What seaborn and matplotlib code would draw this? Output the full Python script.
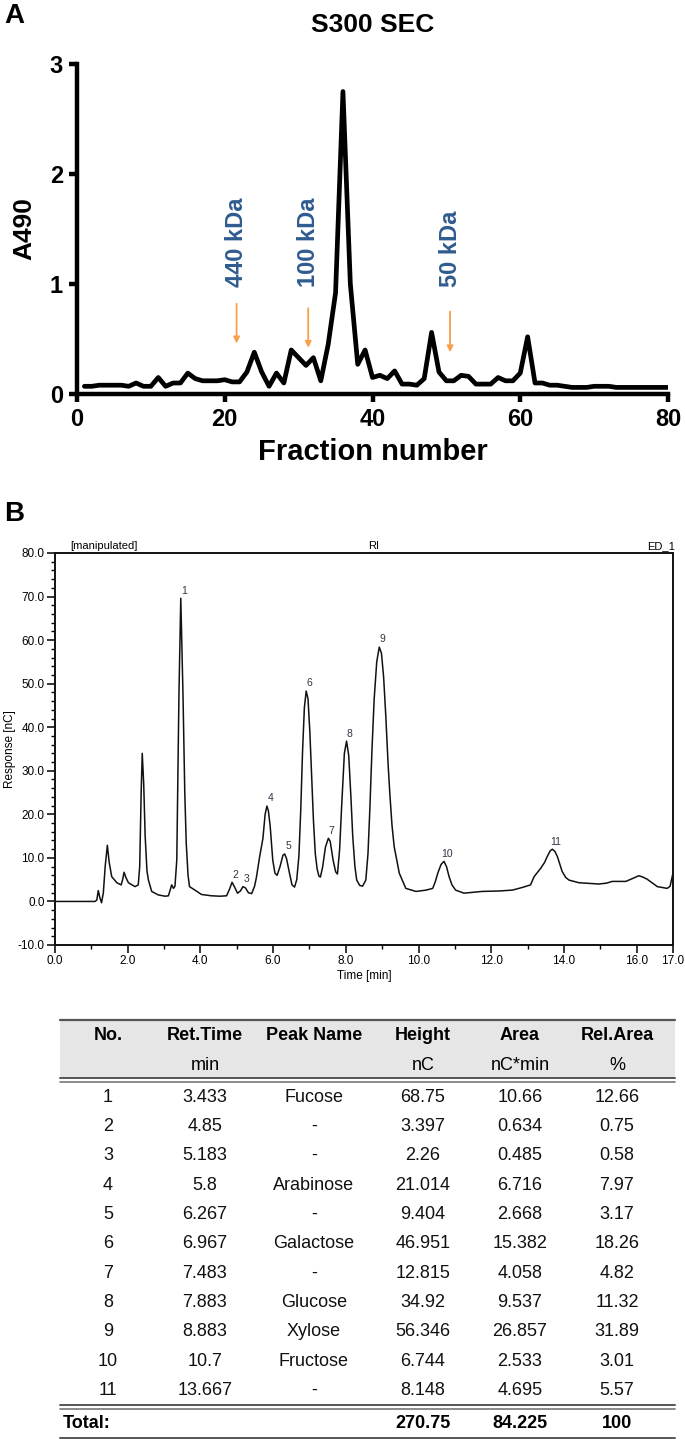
import matplotlib
matplotlib.use("Agg")
import matplotlib.pyplot as plt
from matplotlib.ticker import MultipleLocator, FixedLocator, FormatStrFormatter
import seaborn as sns
import pandas as pd

# ------------------------------------------------------
# Panel A: S300 SEC elution profile (A490 per fraction)
# ------------------------------------------------------
fractions = list(range(1, 81))
a490 = [0.07, 0.07, 0.08, 0.08, 0.08, 0.08, 0.07, 0.10, 0.07, 0.07,
        0.15, 0.07, 0.10, 0.10, 0.19, 0.14, 0.12, 0.12, 0.12, 0.13,
        0.11, 0.11, 0.20, 0.38, 0.20, 0.07, 0.19, 0.10, 0.40, 0.33,
        0.26, 0.33, 0.12, 0.45, 0.92, 2.75, 1.00, 0.27, 0.40, 0.15,
        0.17, 0.14, 0.21, 0.09, 0.09, 0.08, 0.14, 0.56, 0.20, 0.12,
        0.12, 0.17, 0.16, 0.09, 0.09, 0.09, 0.15, 0.12, 0.12, 0.19,
        0.52, 0.10, 0.10, 0.08, 0.08, 0.07, 0.06, 0.06, 0.06, 0.07,
        0.07, 0.07, 0.06, 0.06, 0.06, 0.06, 0.06, 0.06, 0.06, 0.06]

marker_labels = ["440 kDa", "100 kDa", "50 kDa"]
marker_fraction = [21.6, 31.3, 50.5]
arrow_top = [0.82, 0.78, 0.75]
arrow_tip = [0.46, 0.42, 0.38]

# ------------------------------------------------------
# Panel B: RI chromatogram (time [min], response [nC])
# ------------------------------------------------------
rt_min = [0.0, 1.10, 1.15, 1.19, 1.23, 1.28, 1.33, 1.38, 1.44, 1.49,
          1.56, 1.70, 1.82, 1.86, 1.90, 1.95, 2.02, 2.20, 2.29, 2.33,
          2.37, 2.40, 2.44, 2.48, 2.53, 2.57, 2.66, 2.84, 3.03, 3.12,
          3.18, 3.21, 3.26, 3.30, 3.35, 3.41, 3.46, 3.52, 3.57, 3.61,
          3.66, 3.70, 3.85, 4.03, 4.30, 4.54, 4.72, 4.80, 4.87, 4.94,
          5.02, 5.10, 5.17, 5.24, 5.32, 5.41, 5.49, 5.54, 5.63, 5.72,
          5.78, 5.83, 5.87, 5.92, 5.99, 6.05, 6.11, 6.19, 6.27, 6.32,
          6.37, 6.45, 6.52, 6.59, 6.65, 6.71, 6.76, 6.81, 6.86, 6.91,
          6.96, 7.01, 7.06, 7.11, 7.16, 7.21, 7.26, 7.30, 7.36, 7.44,
          7.52, 7.57, 7.65, 7.72, 7.77, 7.83, 7.88, 7.96, 8.02, 8.08,
          8.14, 8.19, 8.25, 8.30, 8.38, 8.46, 8.55, 8.61, 8.66, 8.72,
          8.78, 8.85, 8.92, 8.98, 9.04, 9.10, 9.16, 9.21, 9.27, 9.33,
          9.47, 9.65, 9.93, 10.21, 10.39, 10.46, 10.53, 10.62, 10.70, 10.77,
          10.84, 10.92, 11.02, 11.25, 11.75, 12.21, 12.58, 12.85, 13.08, 13.18,
          13.36, 13.47, 13.54, 13.62, 13.68, 13.75, 13.82, 13.89, 13.95, 14.05,
          14.14, 14.41, 14.96, 15.17, 15.33, 15.70, 15.87, 16.06, 16.17, 16.29,
          16.57, 16.84, 16.92, 17.0]
response_nc = [0.0, 0.0, 0.3, 2.5, 1.0, -0.3, 2.0, 8.0, 12.9, 9.0,
               5.7, 4.3, 3.8, 5.0, 6.7, 5.5, 4.3, 3.4, 3.8, 8.0,
               25.0, 34.0, 27.0, 15.0, 7.0, 4.9, 2.3, 1.5, 1.2, 1.3,
               3.0, 3.8, 3.0, 3.5, 9.5, 47.8, 69.6, 47.8, 25.0, 13.4,
               6.0, 3.4, 2.6, 1.6, 1.3, 1.2, 1.3, 2.8, 4.4, 3.3,
               1.9, 2.4, 3.4, 3.1, 2.0, 1.8, 3.5, 5.5, 10.3, 14.5,
               20.0, 21.9, 20.8, 17.2, 9.5, 6.5, 6.0, 8.0, 10.6, 10.9,
               9.8, 6.5, 3.8, 3.3, 5.0, 10.5, 21.0, 34.5, 44.5, 48.3,
               46.5, 39.0, 28.5, 18.5, 11.0, 7.5, 5.8, 5.6, 7.8, 12.5,
               14.5, 13.8, 9.5, 6.8, 6.3, 12.0, 21.0, 34.0, 36.8, 33.5,
               24.0, 15.0, 8.0, 4.9, 3.7, 3.5, 4.9, 11.0, 21.0, 35.0,
               46.5, 55.0, 58.4, 57.0, 51.5, 42.5, 32.0, 24.8, 17.5, 12.6,
               6.5, 3.0, 2.3, 2.6, 3.0, 4.5, 6.5, 8.5, 9.2, 8.0,
               5.7, 3.8, 2.6, 1.9, 2.3, 2.4, 2.6, 3.2, 3.8, 5.7,
               7.6, 9.0, 10.3, 11.6, 12.0, 11.5, 10.3, 8.5, 6.9, 5.5,
               4.9, 4.3, 4.0, 4.2, 4.6, 4.6, 5.2, 5.9, 5.6, 5.1,
               3.4, 3.0, 3.5, 6.5]

# ------------------------------------------------------
# Peak table
# ------------------------------------------------------
peak_no = [1, 2, 3, 4, 5, 6, 7, 8, 9, 10, 11]
ret_time = ["3.433", "4.85", "5.183", "5.8", "6.267", "6.967", "7.483", "7.883", "8.883", "10.7", "13.667"]
peak_name = ["Fucose", "-", "-", "Arabinose", "-", "Galactose", "-", "Glucose", "Xylose", "Fructose", "-"]
height_nc = ["68.75", "3.397", "2.26", "21.014", "9.404", "46.951", "12.815", "34.92", "56.346", "6.744", "8.148"]
area_nc_min = ["10.66", "0.634", "0.485", "6.716", "2.668", "15.382", "4.058", "9.537", "26.857", "2.533", "4.695"]
rel_area = ["12.66", "0.75", "0.58", "7.97", "3.17", "18.26", "4.82", "11.32", "31.89", "3.01", "5.57"]
totals = ["270.75", "84.225", "100"]
header_top = ["No.", "Ret.Time", "Peak Name", "Height", "Area", "Rel.Area"]
header_units = ["", "min", "", "nC", "nC*min", "%"]

# ------------------------------------------------------
# Style
# ------------------------------------------------------
sns.set_theme(style="ticks")
plt.rcParams["font.family"] = ["Liberation Sans", "DejaVu Sans"]
plt.rcParams["text.color"] = "black"
plt.rcParams["axes.labelcolor"] = "black"
plt.rcParams["xtick.color"] = "black"
plt.rcParams["ytick.color"] = "black"
narrow = ["Liberation Sans Narrow", "Liberation Sans", "DejaVu Sans"]

W, H = 685, 1439
fig = plt.figure(figsize=(W / 100, H / 100), dpi=100)

def box(l, t, r, b):
    return [l / W, 1 - b / H, (r - l) / W, (b - t) / H]

# ======================================================
# Panel A
# ======================================================
axA = fig.add_axes(box(77, 64, 668, 394))
dfA = pd.DataFrame({"fraction": fractions, "A490": a490})
sns.lineplot(data=dfA, x="fraction", y="A490", ax=axA, color="black",
             lw=3.4, estimator=None, sort=False)
axA.set_xlim(0, 80)
axA.set_ylim(0, 3)
axA.set_xticks([0, 20, 40, 60, 80])
axA.set_yticks([0, 1, 2, 3])
sns.despine(ax=axA)
for s in ["left", "bottom"]:
    axA.spines[s].set_linewidth(3.2)
    axA.spines[s].set_color("black")
axA.tick_params(axis="both", length=6, width=3.2, labelsize=17, pad=4, colors="black")
for lab in axA.get_xticklabels() + axA.get_yticklabels():
    lab.set_fontweight("bold")
axA.set_xlabel("Fraction number", fontsize=21, fontweight="bold", labelpad=5)
axA.set_ylabel("A490", fontsize=19, fontweight="bold", labelpad=10)
axA.set_title("S300 SEC", fontsize=19, fontweight="bold", pad=23)

for lab, fx, top, tip in zip(marker_labels, marker_fraction, arrow_top, arrow_tip):
    axA.annotate("", xy=(fx, tip), xytext=(fx, top),
                 arrowprops=dict(arrowstyle="-|>", color="#f7a04e", lw=1.3,
                                 mutation_scale=9, shrinkA=0, shrinkB=0))
    axA.text(fx, 0.97, lab, rotation=90, ha="center", va="bottom",
             fontsize=17, fontweight="bold", color="#2f5b8f")

# ======================================================
# Panel B
# ======================================================
axB = fig.add_axes(box(55, 553, 673, 945))
dfB = pd.DataFrame({"time": rt_min, "response": response_nc})
sns.lineplot(data=dfB, x="time", y="response", ax=axB, color="#111111",
             lw=1.1, estimator=None, sort=False)
axB.set_xlim(0, 17)
axB.set_ylim(-10, 80)
axB.xaxis.set_major_locator(FixedLocator([0, 2, 4, 6, 8, 10, 12, 14, 16, 17]))
axB.xaxis.set_minor_locator(FixedLocator([1, 3, 5, 7, 9, 11, 13, 15]))
axB.yaxis.set_major_locator(MultipleLocator(10))
axB.yaxis.set_minor_locator(MultipleLocator(2))
axB.xaxis.set_major_formatter(FormatStrFormatter("%.1f"))
axB.yaxis.set_major_formatter(FormatStrFormatter("%.1f"))
for s in axB.spines.values():
    s.set_linewidth(1.4)
    s.set_color("#111111")
axB.tick_params(axis="both", which="major", length=6, width=1.1, labelsize=8.5, pad=1.5)
axB.tick_params(axis="both", which="minor", length=3, width=1.0)
for lab in axB.get_xticklabels() + axB.get_yticklabels():
    lab.set_family(narrow)
axB.set_xlabel("Time [min]", fontsize=8.5, family=narrow, labelpad=2)
axB.set_ylabel("Response [nC]", fontsize=8.5, family=narrow, labelpad=1)

axB.text(0.025, 1.006, "[manipulated]", transform=axB.transAxes, fontsize=8,
         family=narrow, ha="left", va="bottom")
axB.text(0.515, 1.006, "RI", transform=axB.transAxes, fontsize=8,
         family=narrow, ha="center", va="bottom")
axB.text(1.003, 1.006, "ED_1", transform=axB.transAxes, fontsize=8,
         family=narrow, ha="right", va="bottom")

# peak numbers above each apex
for n, rt in zip(peak_no, ret_time):
    t = float(rt)
    near = dfB[(dfB["time"] > t - 0.2) & (dfB["time"] < t + 0.2)]
    apex = near.loc[near["response"].idxmax()]
    axB.text(apex["time"] + 0.09, apex["response"] + 0.6, str(n), fontsize=7.5,
             family=narrow, ha="center", va="bottom", color="#333344")

# ======================================================
# Overlay: panel letters and peak table (pixel coordinates)
# ======================================================
ov = fig.add_axes([0, 0, 1, 1], zorder=-1)
ov.set_xlim(0, W)
ov.set_ylim(H, 0)
ov.axis("off")
ov.text(4, 16, "A", fontsize=20, fontweight="bold", va="center", ha="left")
ov.text(4, 514, "B", fontsize=20, fontweight="bold", va="center", ha="left")

col_x = [108, 205, 314, 423, 520, 617]
tbl_l, tbl_r = 60, 675
ov.fill_between([tbl_l, tbl_r], 1020, 1079, color="#e6e6e6", lw=0)
ov.plot([tbl_l, tbl_r], [1020, 1020], color="#555555", lw=1.6)
ov.plot([tbl_l, tbl_r], [1078, 1078], color="#555555", lw=1.4)
ov.plot([tbl_l, tbl_r], [1082, 1082], color="#777777", lw=1.2)
for x, t1, t2 in zip(col_x, header_top, header_units):
    ov.text(x, 1036, t1, fontsize=13, fontweight="bold", ha="center", va="center")
    ov.text(x, 1066, t2, fontsize=13, ha="center", va="center")

row_h = 29.35
for i in range(len(peak_no)):
    y = 1097 + i * row_h
    cells = [str(peak_no[i]), ret_time[i], peak_name[i], height_nc[i], area_nc_min[i], rel_area[i]]
    for x, c in zip(col_x, cells):
        ov.text(x, y, c, fontsize=13, ha="center", va="center", color="#111111")

ov.plot([tbl_l, tbl_r], [1405, 1405], color="#555555", lw=1.4)
ov.plot([tbl_l, tbl_r], [1409, 1409], color="#777777", lw=1.2)
ov.text(63, 1423, "Total:", fontsize=13, fontweight="bold", ha="left", va="center")
for x, v in zip(col_x[3:], totals):
    ov.text(x, 1423, v, fontsize=13, fontweight="bold", ha="center", va="center")
ov.plot([tbl_l, tbl_r], [1437.5, 1437.5], color="#555555", lw=1.4)

fig.savefig("out.png", dpi=100)
